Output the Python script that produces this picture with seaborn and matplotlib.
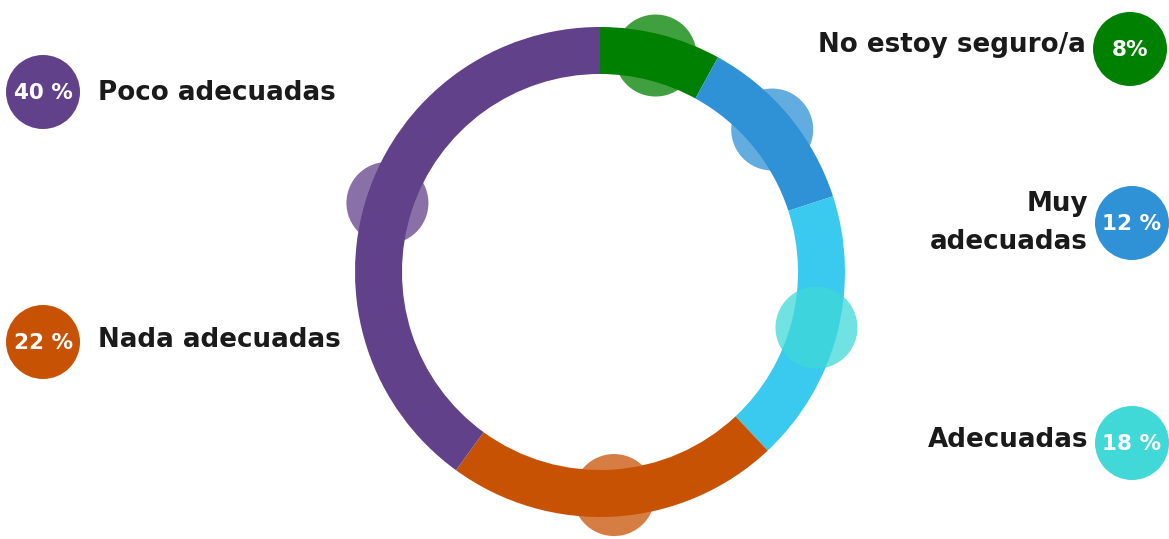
import numpy as np
import matplotlib
matplotlib.use("Agg")
import matplotlib.pyplot as plt
import seaborn as sns
from matplotlib.patches import Circle

# ---- data ----
categories = ["No estoy seguro/a", "Muy adecuadas", "Adecuadas", "Nada adecuadas", "Poco adecuadas"]
values = [8, 12, 18, 22, 40]
value_labels = ["8%", "12 %", "18 %", "22 %", "40 %"]
legend_names = ["No estoy seguro/a", "Muy\nadecuadas", "Adecuadas", "Nada adecuadas", "Poco adecuadas"]

# ---- style ----
ring_colors = ["#008000", "#2F91D6", "#3AC9EF", "#C85204", "#61428A"]
dot_colors = ["#008000", "#2F91D6", "#40D9D8", "#C85204", "#61428A"]

sns.set_theme(style="white")
plt.rcParams["font.family"] = ["DejaVu Sans"]

W, H = 1169, 539
fig = plt.figure(figsize=(W / 100, H / 100), dpi=100)
ax = fig.add_axes([0, 0, 1, 1])

cx, cy = 600, H - 272
R_out, width = 245, 47

ax.pie(values, colors=ring_colors, startangle=90, counterclock=False,
       radius=R_out, center=(cx, cy), frame=True,
       wedgeprops=dict(width=width, linewidth=0, antialiased=True))
ax.set_xlim(0, W)
ax.set_ylim(0, H)
ax.set_aspect("equal")
ax.axis("off")

# decorative translucent dots at each segment's midpoint
total = float(sum(values))
cum = np.cumsum([0] + values)
r_mid = R_out - width / 2 + 2
for i, v in enumerate(values):
    mid = (cum[i] + v / 2) / total * 360.0
    th = np.deg2rad(mid)
    x = cx + r_mid * np.sin(th)
    y = cy + r_mid * np.cos(th)
    ax.add_patch(Circle((x, y), 41, facecolor=dot_colors[i], alpha=0.75,
                        linewidth=0, zorder=5))

# legend items (layout positions)
legend_pos = {
    0: dict(c=(1130, H - 49), side="right", ty=H - 45),
    1: dict(c=(1132, H - 223), side="right", ty=H - 223),
    2: dict(c=(1132, H - 443), side="right", ty=H - 440),
    3: dict(c=(43, H - 342), side="left", ty=H - 340),
    4: dict(c=(43, H - 92), side="left", ty=H - 93),
}
for i in range(len(values)):
    p = legend_pos[i]
    ax.add_patch(Circle(p["c"], 37, facecolor=dot_colors[i], linewidth=0, zorder=6))
    ax.text(p["c"][0], p["c"][1] - 1, value_labels[i], color="white", fontsize=15.5,
            fontweight="bold", ha="center", va="center", zorder=7)
    if p["side"] == "right":
        ax.text(p["c"][0] - 44, p["ty"], legend_names[i], color="#1a1a1a", fontsize=18.8,
                fontweight="bold", ha="right", va="center", linespacing=1.6, zorder=7)
    else:
        ax.text(p["c"][0] + 55, p["ty"], legend_names[i], color="#1a1a1a", fontsize=18.8,
                fontweight="bold", ha="left", va="center", zorder=7)

fig.savefig("out.png", dpi=100, facecolor="white")
